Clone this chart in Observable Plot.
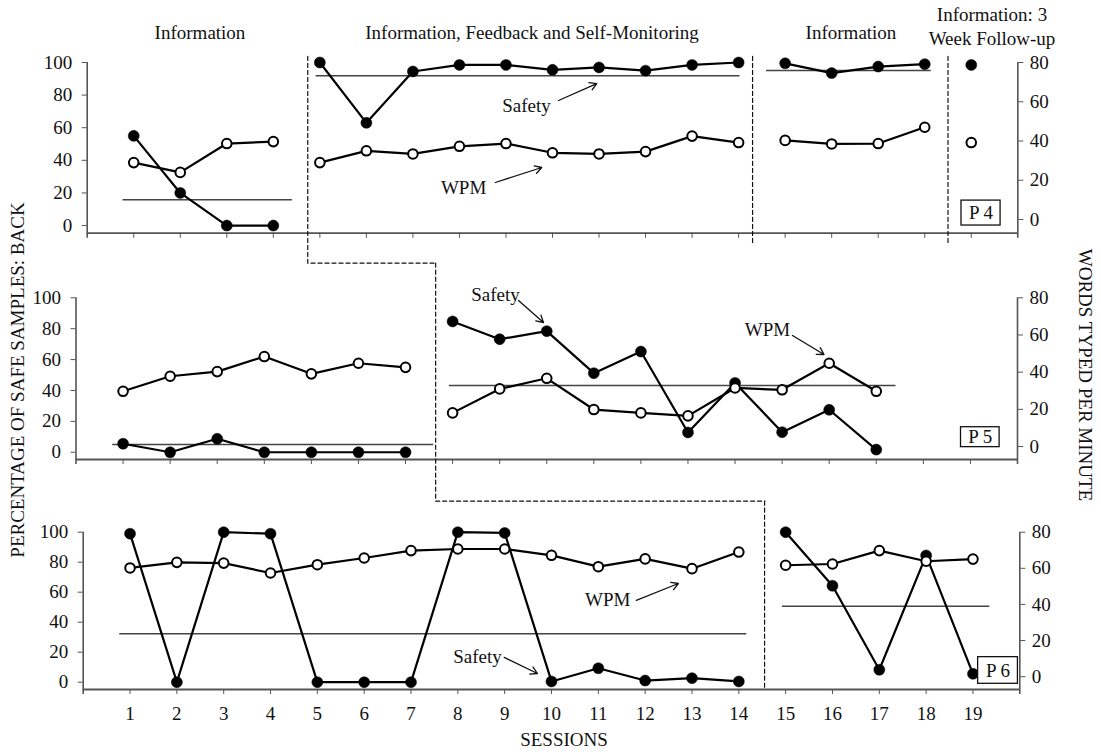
<!DOCTYPE html>
<html>
<head>
<meta charset="utf-8">
<script src="https://cdn.jsdelivr.net/npm/d3@7"></script>
<script src="https://cdn.jsdelivr.net/npm/@observablehq/plot@0.6"></script>
<style>
  body { margin: 0; background: #fff; }
  #chart { position: relative; width: 1101px; height: 754px; overflow: hidden;
           font-family: "Liberation Serif", "Times New Roman", serif; color: #111; background: #fff; }
  #chart svg { position: absolute; left: 0; top: 0; }
  .t { position: absolute; white-space: nowrap; font-size: 19px; line-height: 1.15;
       transform: translate(-50%, -50%); text-align: center; }
  .vl { transform: translate(-50%, -50%) rotate(-90deg); }
  .vr { transform: translate(-50%, -50%) rotate(90deg); }
</style>
</head>
<body>
<div id="chart"></div>
<script>
// ---------------- data ----------------
const sessions = [1,2,3,4,5,6,7,8,9,10,11,12,13,14,15,16,17,18,19];
const yTicks = [0, 20, 40, 60, 80, 100];
const wpmTicks = [0, 20, 40, 60, 80];

// P 4
const p4Safety = [55, 20, 0, 0, 100, 63, 94.5, 98.5, 98.5, 95.5, 97, 95, 98.5, 100, 99.5, 93.5, 97.5, 99, 98.5];
const p4Wpm    = [29, 24, 38.7, 39.7, 29, 35, 33.4, 37.3, 38.7, 34, 33.4, 34.6, 42.5, 39.2, 40.3, 38.5, 38.7, 47, 39.2];
const p4Phase  = [1,1,1,1,2,2,2,2,2,2,2,2,2,2,3,3,3,3,4];
const p4Mean   = [15.8, 91.8, 95.1];

// P 5
const p5Safety = [5.5, 0, 8.7, 0, 0, 0, 0, 84.7, 73.2, 78.4, 51.2, 65.2, 12.8, 44.9, 13, 27.5, 1.7];
const p5Wpm    = [29.7, 37.8, 40.3, 48.4, 39.1, 44.8, 42.6, 18.1, 31, 36.7, 19.9, 18.1, 16.5, 31.5, 30.5, 44.8, 29.7];
const p5Phase  = [1,1,1,1,1,1,1,2,2,2,2,2,2,2,2,2,2];
const p5Mean   = [5.0, 43.2];

// P 6
const p6Safety = [99, 0, 100, 99, 0, 0, 0, 100, 99.5, 0.5, 9.3, 1.1, 2.7, 0.5, 100, 64.3, 8.3, 84.5, 5.6];
const p6Wpm    = [60.2, 63.3, 62.9, 57.4, 62, 65.7, 69.8, 70.7, 70.7, 67.2, 60.9, 65.2, 59.8, 69, 61.7, 62.4, 69.8, 63.9, 65.1];
const p6Phase  = [1,1,1,1,1,1,1,1,1,1,1,1,1,1,2,2,2,2,2];
const p6Mean   = [32.3, 50.7];

const phaseTitles = ["Information", "Information, Feedback and Self-Monitoring", "Information", "Information: 3<br>Week Follow-up"];
const yTitleLeft = "PERCENTAGE OF SAFE SAMPLES: BACK";
const yTitleRight = "WORDS TYPED PER MINUTE";
const xTitle = "SESSIONS";

// WPM (right axis) expressed on the left (percentage) scale
const toL = r => 3.7 + r * 1.20375;
const fromL = v => Math.round((v - 3.7) / 1.20375);

// ---------------- layout ----------------
const W = 1101, H = 754;
const panels = [
  {
    safety: p4Safety, wpm: p4Wpm, phase: p4Phase, label: "P 4", xLabels: false,
    frame: {left: 86.7, right: 1017.3, top: 62, bottom: 232.7, yMin: -4.7},
    mean: [[0.77, 4.41], [4.92, 14.03], [14.6, 18.14]].map((e, i) => ({value: p4Mean[i], from: e[0], to: e[1]})),
    dash: [
      [[4.74, 103.7], [4.74, -23.1], [7.49, -23.1]],
      [[14.3, 103.7], [14.3, -11]],
      [[18.5, 103.7], [18.5, -11]]
    ],
    notes: [{x: 9.44, y: 73.6, text: "Safety"}, {x: 8.09, y: 23.3, text: "WPM"}],
    arrows: [{x1: 10.13, y1: 76.7, x2: 10.95, y2: 87.1}, {x1: 8.77, y1: 26.4, x2: 9.77, y2: 35.6}],
    box: {x1: 18.79, x2: 19.63, y1: 0, y2: 15.3}
  },
  {
    safety: p5Safety, wpm: p5Wpm, phase: p5Phase, label: "P 5", xLabels: false,
    frame: {left: 75.5, right: 1017, top: 297.3, bottom: 459, yMin: -4.7},
    mean: [[0.78, 7.6], [7.93, 17.42]].map((e, i) => ({value: p5Mean[i], from: e[0], to: e[1]})),
    dash: [
      [[7.64, 122.4], [7.64, -31.7], [14.63, -31.7]]
    ],
    notes: [{x: 8.91, y: 102.1, text: "Safety"}, {x: 14.69, y: 79.5, text: "WPM"}],
    arrows: [{x1: 9.4, y1: 98.3, x2: 9.93, y2: 84.0}, {x1: 15.22, y1: 75.6, x2: 15.89, y2: 63.3}],
    box: {x1: 18.8, x2: 19.62, y1: 3.3, y2: 16.2}
  },
  {
    safety: p6Safety, wpm: p6Wpm, phase: p6Phase, label: "P 6", xLabels: true,
    frame: {left: 82.7, right: 1019.3, top: 531.7, bottom: 689, yMin: -4.87},
    mean: [[0.78, 14.17], [14.93, 19.36]].map((e, i) => ({value: p6Mean[i], from: e[0], to: e[1]})),
    dash: [
      [[14.55, 120.7], [14.55, -4.87]]
    ],
    notes: [{x: 8.42, y: 17.1, text: "Safety"}, {x: 11.2, y: 55.1, text: "WPM"}],
    arrows: [{x1: 8.99, y1: 16.5, x2: 9.7, y2: 5.8}, {x1: 11.81, y1: 54.5, x2: 12.71, y2: 65.8}],
    box: {x1: 19.11, x2: 19.96, y1: -1.07, y2: 16.7}
  }
];

const font = '"Liberation Serif", "Times New Roman", serif';
const chart = document.getElementById("chart");

for (const p of panels) {
  const rows = p.safety.map((s, i) => ({session: sessions[i], safety: s, wpm: toL(p.wpm[i]), phase: p.phase[i]}));
  const dashRows = p.dash.flatMap((path, id) => path.map(([x, y]) => ({id, x, y})));
  const f = p.frame;
  const ext = 5 * (100 - f.yMin) / (f.bottom - f.top);
  const svg = Plot.plot({
    width: W, height: H,
    marginLeft: f.left, marginRight: W - f.right, marginTop: f.top, marginBottom: H - f.bottom,
    x: {domain: [0, 20], axis: null},
    y: {domain: [f.yMin, 100], axis: null},
    style: {background: "transparent", fontFamily: font, fontSize: "19px", color: "#111", overflow: "visible"},
    marks: [
      // axis lines
      Plot.ruleY([f.yMin], {x1: 0, x2: 20, stroke: "#555", strokeWidth: 1.8}),
      Plot.ruleX([0, 20], {y1: f.yMin - ext, y2: 100, stroke: "#555", strokeWidth: 1.6}),
      Plot.axisX({ticks: sessions, tickSize: 5, tickPadding: 12, label: null,
                  tickFormat: p.xLabels ? d => String(d) : () => "", stroke: "#555"}),
      Plot.axisY({anchor: "left", ticks: yTicks, tickSize: 5, tickPadding: 10, label: null, stroke: "#555"}),
      Plot.axisY({anchor: "right", ticks: wpmTicks.map(toL), tickFormat: d => String(fromL(d)),
                  tickSize: 5, tickPadding: 7, label: null, stroke: "#555"}),
      // phase level lines
      Plot.ruleY(p.mean, {y: "value", x1: "from", x2: "to", stroke: "#444", strokeWidth: 1.5}),
      // phase change lines
      Plot.line(dashRows, {x: "x", y: "y", z: "id", stroke: "#111", strokeWidth: 1.2, strokeDasharray: "4,3"}),
      // data
      Plot.line(rows, {x: "session", y: "safety", z: "phase", stroke: "#000", strokeWidth: 2.2}),
      Plot.line(rows, {x: "session", y: "wpm", z: "phase", stroke: "#000", strokeWidth: 2.2}),
      Plot.dot(rows, {x: "session", y: "safety", r: 5.5, fill: "#000", stroke: "#000", strokeWidth: 0.5}),
      Plot.dot(rows, {x: "session", y: "wpm", r: 4.8, fill: "#fff", stroke: "#000", strokeWidth: 2}),
      // annotations
      Plot.text(p.notes, {x: "x", y: "y", text: "text", fontSize: 19, fill: "#111"}),
      Plot.arrow(p.arrows, {x1: "x1", y1: "y1", x2: "x2", y2: "y2", stroke: "#111", strokeWidth: 1.3, headLength: 9}),
      Plot.rect([p.box], {x1: "x1", x2: "x2", y1: "y1", y2: "y2", fill: "#fff", stroke: "#111", strokeWidth: 1.3}),
      Plot.text([p.box], {x: d => (d.x1 + d.x2) / 2, y: d => (d.y1 + d.y2) / 2, text: () => p.label, fontSize: 19, fill: "#111"})
    ]
  });
  chart.appendChild(svg);
}

// page texts
function addText(html, x, y, cls) {
  const d = document.createElement("div");
  d.className = "t" + (cls ? " " + cls : "");
  d.innerHTML = html;
  d.style.left = x + "px";
  d.style.top = y + "px";
  chart.appendChild(d);
  return d;
}
addText(phaseTitles[0], 200, 33);
addText(phaseTitles[1], 532, 33);
addText(phaseTitles[2], 851, 33);
const ft = addText(phaseTitles[3], 992, 27);
ft.style.lineHeight = "24px";
addText(xTitle, 564, 740);
addText(yTitleLeft, 17.5, 380, "vl");
addText(yTitleRight, 1084.5, 374.5, "vr");
</script>
</body>
</html>
